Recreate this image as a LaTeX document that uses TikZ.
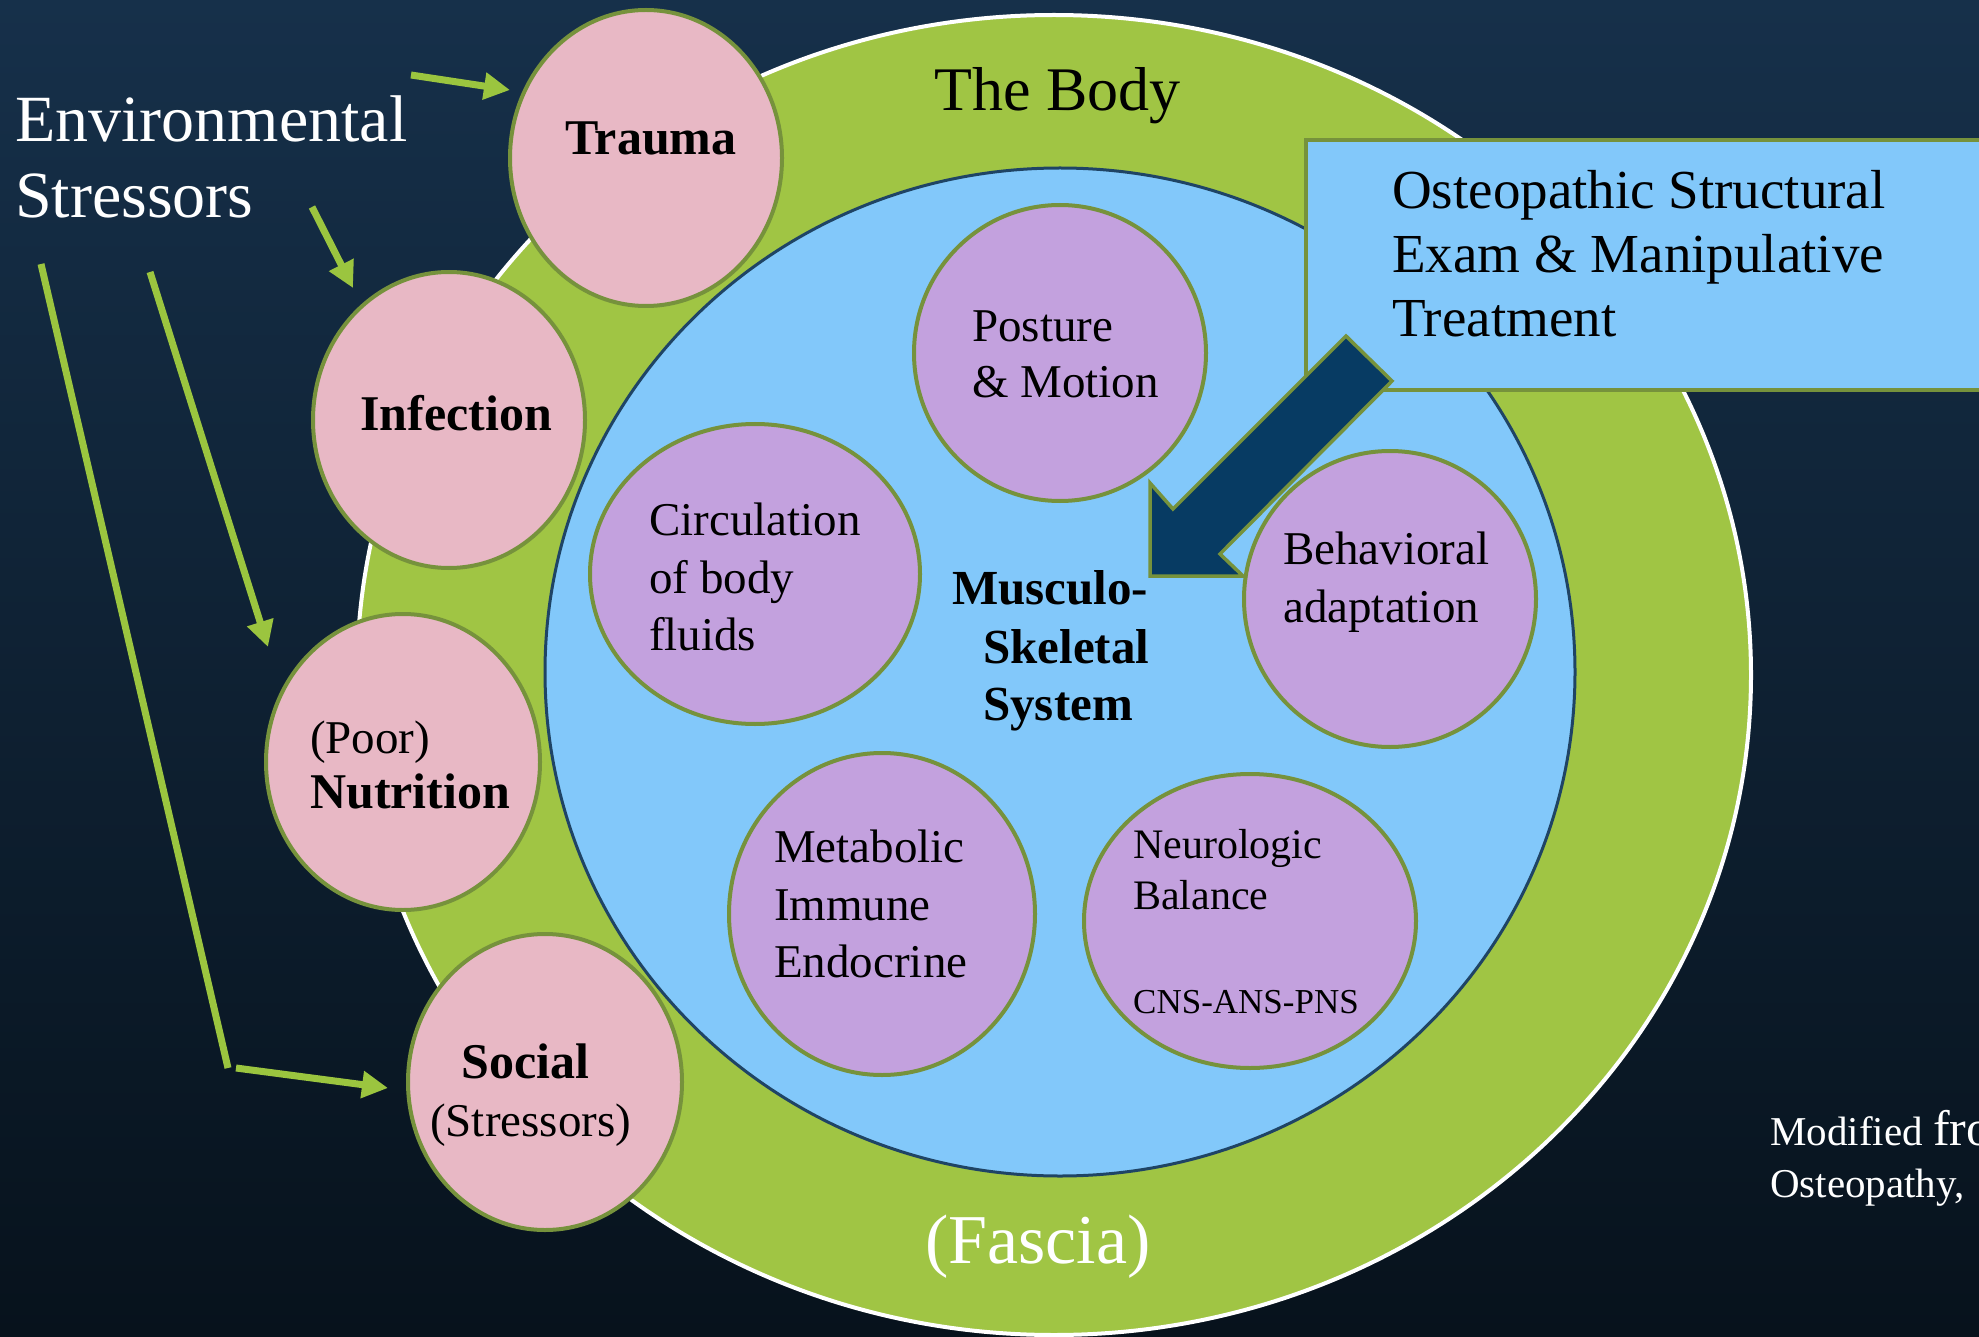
\documentclass[tikz,border=0pt]{standalone}
\usepackage{fontspec}
\setmainfont{Liberation Serif}
\usetikzlibrary{shapes.geometric,arrows.meta}
\definecolor{bgtop}{HTML}{16304A}
\definecolor{bgbot}{HTML}{07121C}
\definecolor{ring}{HTML}{A0C544}
\definecolor{pinkf}{HTML}{E8B8C5}
\definecolor{purpf}{HTML}{C3A1DE}
\definecolor{bluef}{HTML}{82C8FA}
\definecolor{olive}{HTML}{76923C}
\definecolor{navyf}{HTML}{073B63}
\definecolor{navyl}{HTML}{1F4465}
\definecolor{stressg}{HTML}{9BC53F}
\begin{document}
\begin{tikzpicture}[x=1pt,y=-1pt,
  blob/.style={ellipse, draw=olive, line width=4pt, inner sep=0pt},
  pinkblob/.style={blob, fill=pinkf},
  purpblob/.style={blob, fill=purpf},
  lbl/.style={anchor=base west, inner sep=0pt, text=black, font=\fontsize{47}{56}\selectfont},
  blbl/.style={lbl, font=\fontsize{50}{58}\selectfont\bfseries},
  wlbl/.style={anchor=base west, inner sep=0pt, text=white},
  stressline/.style={draw=stressg, line width=7pt},
  stressarrow/.style={stressline, -{Triangle[length=26pt,width=26pt]}},
]
\useasboundingbox (0,0) rectangle (1979,1337);
\clip (0,0) rectangle (1979,1337);
\shade[top color=bgtop, bottom color=bgbot] (0,0) rectangle (1979,1337);

% body rings
\node[ellipse, fill=ring, draw=white, line width=4pt, inner sep=0pt,
      minimum width=1394pt, minimum height=1320pt] (body) at (1054,675) {};
\node[ellipse, fill=bluef, draw=navyl, line width=3pt, inner sep=0pt,
      minimum width=1030pt, minimum height=1008pt] (mss) at (1060,672) {};

% stressor circles
\node[pinkblob, minimum width=272pt, minimum height=296pt] (trauma) at (646,158) {};
\node[pinkblob, minimum width=272pt, minimum height=296pt] (infection) at (449,420) {};
\node[pinkblob, minimum width=274pt, minimum height=296pt] (nutrition) at (403,762) {};
\node[pinkblob, minimum width=274pt, minimum height=296pt] (social) at (545,1082) {};

% inner circles
\node[purpblob, minimum width=292pt, minimum height=296pt] (posture) at (1060,353) {};
\node[purpblob, minimum width=330pt, minimum height=300pt] (circ) at (755,574) {};
\node[purpblob, minimum width=292pt, minimum height=296pt] (behav) at (1390,599) {};
\node[purpblob, minimum width=306pt, minimum height=322pt] (metab) at (882,914) {};
\node[purpblob, minimum width=332pt, minimum height=294pt] (neuro) at (1250,921) {};

% treatment box and arrow
\node[draw=olive, fill=bluef, line width=4pt, inner sep=0pt, anchor=north west,
      minimum width=720pt, minimum height=250pt] (ostbox) at (1304,138) {};
\draw[fill=navyf, draw=olive, line width=3.5pt, line join=miter]
  (1346,336) -- (1392,381) -- (1220,554) -- (1243,576) -- (1150,576)
  -- (1150,483) -- (1173,509) -- cycle;

% titles
\node[wlbl, font=\fontsize{66}{76}\selectfont] (env1) at (15,142) {Environmental};
\node[wlbl, font=\fontsize{66}{76}\selectfont] (env2) at (15,218) {Stressors};
\node[lbl, font=\fontsize{62}{70}\selectfont] (bodyt) at (934,111) {The Body};
\node[wlbl, font=\fontsize{70}{80}\selectfont] (fascia) at (925,1263) {(Fascia)};

% box text
\node[lbl, font=\fontsize{55}{64}\selectfont] (ost1) at (1392,209) {Osteopathic Structural};
\node[lbl, font=\fontsize{55}{64}\selectfont] (ost2) at (1392,273) {Exam \& Manipulative};
\node[lbl, font=\fontsize{55}{64}\selectfont] (ost3) at (1392,337) {Treatment};

% stressor labels
\node[blbl] (traumat) at (565,155) {Trauma};
\node[blbl] (infectt) at (360,431) {Infection};
\node[lbl] (poort) at (310,753) {(Poor)};
\node[blbl] (nutrt) at (310,808) {Nutrition};
\node[blbl] (socialt) at (461,1078) {Social};
\node[lbl] (stresst) at (430,1136) {(Stressors)};

% inner labels
\node[lbl] (post1) at (972,342) {Posture};
\node[lbl] (post2) at (972,398) {\& Motion};
\node[lbl] (circ1) at (649,535) {Circulation};
\node[lbl] (circ2) at (649,593) {of body};
\node[lbl] (circ3) at (649,650) {fluids};
\node[lbl, font=\fontsize{49}{58}\selectfont\bfseries] (mss1) at (952,604) {Musculo-};
\node[lbl, font=\fontsize{49}{58}\selectfont\bfseries] (mss2) at (983,663) {Skeletal};
\node[lbl, font=\fontsize{49}{58}\selectfont\bfseries] (mss3) at (983,720) {System};
\node[lbl] (beh1) at (1283,564) {Behavioral};
\node[lbl] (beh2) at (1283,622) {adaptation};
\node[lbl] (met1) at (774,862) {Metabolic};
\node[lbl] (met2) at (774,920) {Immune};
\node[lbl] (met3) at (774,977) {Endocrine};
\node[lbl, font=\fontsize{42}{50}\selectfont] (neu1) at (1133,858) {Neurologic};
\node[lbl, font=\fontsize{42}{50}\selectfont] (neu2) at (1133,909) {Balance};
\node[lbl, font=\fontsize{35}{42}\selectfont] (neu3) at (1133,1013) {CNS-ANS-PNS};

% citation
\node[wlbl, font=\fontsize{41}{48}\selectfont] (cite1) at (1770,1145) {Modified {\fontsize{50}{58}\selectfont from}};
\node[wlbl, font=\fontsize{41}{48}\selectfont] (cite2) at (1770,1197) {Osteopathy,};

% stressor arrows
\coordinate (s1a) at (411,75);  \coordinate (s1b) at (510,90);
\coordinate (s2a) at (312,207); \coordinate (s2b) at (353,288);
\coordinate (s3a) at (150,272); \coordinate (s3b) at (268,647);
\coordinate (s4a) at (41,264);  \coordinate (s4b) at (228,1068);
\coordinate (s5a) at (236,1068); \coordinate (s5b) at (388,1088);
\draw[stressarrow] (s1a) -- (s1b);
\draw[stressarrow] (s2a) -- (s2b);
\draw[stressarrow] (s3a) -- (s3b);
\draw[stressline] (s4a) -- (s4b);
\draw[stressarrow] (s5a) -- (s5b);
\end{tikzpicture}
\end{document}
